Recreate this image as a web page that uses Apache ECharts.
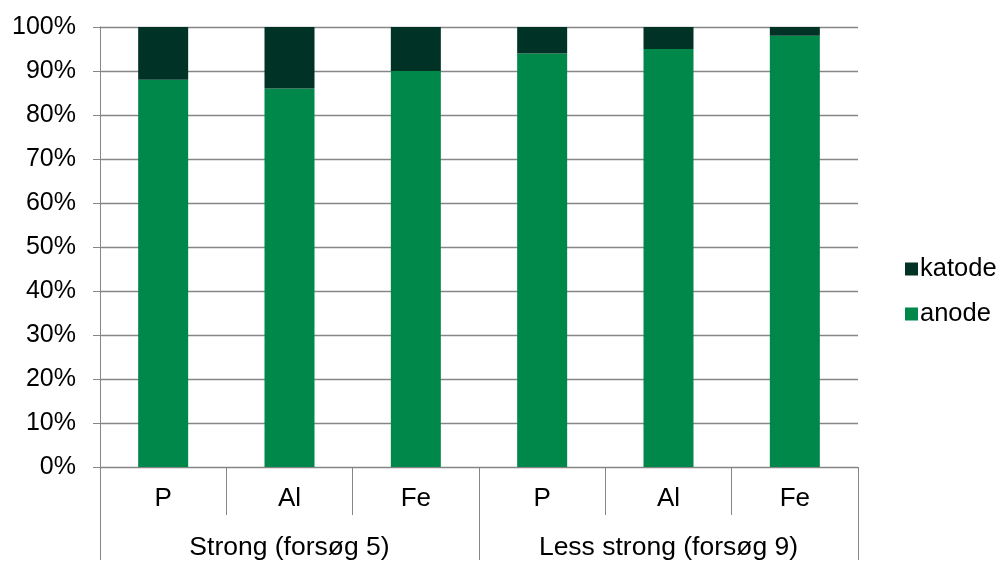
<!DOCTYPE html>
<html>
<head>
<meta charset="utf-8">
<script src="https://cdn.jsdelivr.net/npm/echarts@6/dist/echarts.min.js"></script>
<style>
  html, body { margin: 0; padding: 0; background: #fff; }
  #chart { width: 1002px; height: 561px; }
</style>
</head>
<body>
<div id="chart"></div>
<script>
// Electrode share per element, two test series
const elements = ['P', 'Al', 'Fe', 'P', 'Al', 'Fe'];
const groups = ['Strong (forsøg 5)', 'Less strong (forsøg 9)'];
const anode = [88, 86, 90, 94, 95, 98];
const katode = [12, 14, 10, 6, 5, 2];
const yTicks = [0, 10, 20, 30, 40, 50, 60, 70, 80, 90, 100];

const FONT = '"Liberation Sans", Arial, sans-serif';
const GRID_COLOR = '#868686';

const chart = echarts.init(document.getElementById('chart'), null, { renderer: 'canvas' });

chart.setOption({
  animation: false,
  backgroundColor: '#ffffff',
  textStyle: { fontFamily: FONT },
  grid: { left: 100, right: 144, top: 27, bottom: 93, containLabel: false },
  legend: {
    orient: 'vertical',
    left: 900,
    top: 251,
    itemWidth: 13,
    itemHeight: 13,
    itemGap: 19,
    icon: 'rect',
    data: ['katode', 'anode'],
    textStyle: { fontFamily: FONT, fontSize: 25.5, color: '#000', padding: [0, 0, 0, -3] }
  },
  xAxis: [
    {
      type: 'category',
      data: elements,
      position: 'bottom',
      boundaryGap: true,
      axisLine: { show: true, lineStyle: { color: GRID_COLOR, width: 1 } },
      axisTick: { show: true, interval: 0, length: 48, lineStyle: { color: GRID_COLOR, width: 1 } },
      axisLabel: { interval: 0, margin: 19, fontFamily: FONT, fontSize: 26, color: '#000' }
    },
    {
      type: 'category',
      data: groups,
      position: 'bottom',
      boundaryGap: true,
      axisLine: { show: false },
      axisTick: { show: true, interval: 0, length: 93, lineStyle: { color: GRID_COLOR, width: 1 } },
      axisLabel: { interval: 0, margin: 67, fontFamily: FONT, fontSize: 26.5, color: '#000' }
    }
  ],
  yAxis: {
    type: 'value',
    min: yTicks[0],
    max: yTicks[yTicks.length - 1],
    interval: 10,
    axisLine: { show: true, lineStyle: { color: GRID_COLOR, width: 1 } },
    axisTick: { show: true, length: 7, lineStyle: { color: GRID_COLOR, width: 1 } },
    axisLabel: { formatter: '{value}%', margin: 24, fontFamily: FONT, fontSize: 25, color: '#000' },
    splitLine: { show: true, lineStyle: { color: GRID_COLOR, width: 1.3 } }
  },
  series: [
    {
      name: 'anode',
      type: 'bar',
      stack: 'total',
      xAxisIndex: 0,
      barWidth: 50,
      itemStyle: { color: '#00874A' },
      data: anode
    },
    {
      name: 'katode',
      type: 'bar',
      stack: 'total',
      xAxisIndex: 0,
      barWidth: 50,
      itemStyle: { color: '#003326' },
      data: katode
    }
  ]
});
</script>
</body>
</html>
